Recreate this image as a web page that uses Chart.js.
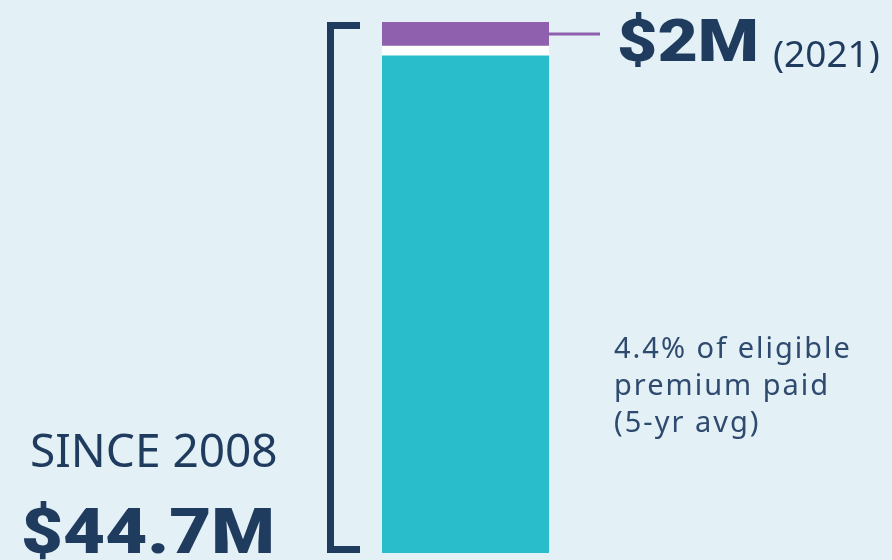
<!DOCTYPE html>
<html>
<head>
<meta charset="utf-8">
<script src="https://cdn.jsdelivr.net/npm/chart.js@4.4.1/dist/chart.umd.min.js"></script>
<style>
html,body{margin:0;padding:0;background:#e3f0f6;}
#wrap{position:relative;width:892px;height:560px;}
</style>
</head>
<body>
<div id="wrap"><canvas id="c" width="892" height="560"></canvas></div>
<script>
const categories = ["Premium returned"];
const sinceTotal = [42.7];
const year2021 = [2.0];
const totalLabel = "$44.7M";
const sinceLabel = "SINCE 2008";
const yearValueLabel = "$2M";
const yearLabel = "(2021)";
const noteLines = ["4.4% of eligible", "premium paid", "(5-yr avg)"];

const NAVY = "#1f3b5e";
const TEAL = "#29bdcc";
const PURPLE = "#8e60ae";

function wideText(ctx, text, x, y, font, targetWidth, spacing) {
  ctx.save();
  ctx.font = font;
  ctx.letterSpacing = (spacing || 0) + "px";
  const w = ctx.measureText(text).width;
  const sx = targetWidth / w;
  ctx.translate(x, y);
  ctx.scale(sx, 1);
  ctx.fillText(text, 0, 0);
  ctx.restore();
}

const annot = {
  id: "annot",
  afterDatasetsDraw(chart) {
    const ctx = chart.ctx;
    const ys = chart.scales.y;
    const meta1 = chart.getDatasetMeta(1).data[0];
    const yTop = ys.getPixelForValue(sinceTotal[0] + year2021[0]);
    const yBot = ys.getPixelForValue(0);
    ctx.save();
    // bracket
    ctx.strokeStyle = NAVY;
    ctx.lineWidth = 7;
    ctx.lineCap = "butt";
    ctx.lineJoin = "miter";
    ctx.beginPath();
    ctx.moveTo(360, yTop + 3.5);
    ctx.lineTo(330.5, yTop + 3.5);
    ctx.lineTo(330.5, yBot - 3.5);
    ctx.lineTo(360, yBot - 3.5);
    ctx.stroke();
    // leader line
    const midY = (meta1.y + meta1.base) / 2;
    ctx.strokeStyle = PURPLE;
    ctx.lineWidth = 3;
    ctx.beginPath();
    ctx.moveTo(meta1.x + meta1.width / 2, midY);
    ctx.lineTo(600, midY);
    ctx.stroke();
    // texts
    ctx.fillStyle = NAVY;
    ctx.textBaseline = "alphabetic";
    wideText(ctx, yearValueLabel, 617, 61, "900 59px Roboto, 'Liberation Sans', sans-serif", 142, 0);
    ctx.font = "400 37px 'Noto Sans', 'Open Sans', sans-serif";
    ctx.fillText(yearLabel, 773, 67);
    ctx.font = "400 46px 'Noto Sans', 'Open Sans', sans-serif";
    ctx.fillText(sinceLabel, 30, 467);
    wideText(ctx, totalLabel, 21, 553, "900 63px Roboto, 'Liberation Sans', sans-serif", 254, 0);
    ctx.fillStyle = "#2e4a6e";
    noteLines.forEach((t, i) => {
      ctx.save();
      ctx.font = "400 29px 'Noto Sans', 'Open Sans', sans-serif";
      ctx.letterSpacing = "2px";
      ctx.fillText(t, 614, 358 + i * 37);
      ctx.restore();
    });
    ctx.restore();
  }
};

new Chart(document.getElementById("c"), {
  type: "bar",
  data: {
    labels: categories,
    datasets: [
      { label: "Since 2008", data: sinceTotal, backgroundColor: TEAL,
        borderColor: "#ffffff", borderWidth: { top: 10, left: 0, right: 0, bottom: 0 }, borderSkipped: false },
      { label: "2021", data: year2021, backgroundColor: PURPLE, borderWidth: 0 }
    ]
  },
  options: {
    responsive: false,
    animation: false,
    devicePixelRatio: 1,
    layout: { padding: { left: 382, right: 343, top: 22, bottom: 7 } },
    datasets: { bar: { barPercentage: 1, categoryPercentage: 1 } },
    scales: {
      x: { display: false, stacked: true },
      y: { display: false, stacked: true, min: 0, max: 44.7 }
    },
    plugins: { legend: { display: false }, tooltip: { enabled: false } }
  },
  plugins: [annot]
});
</script>
</body>
</html>
